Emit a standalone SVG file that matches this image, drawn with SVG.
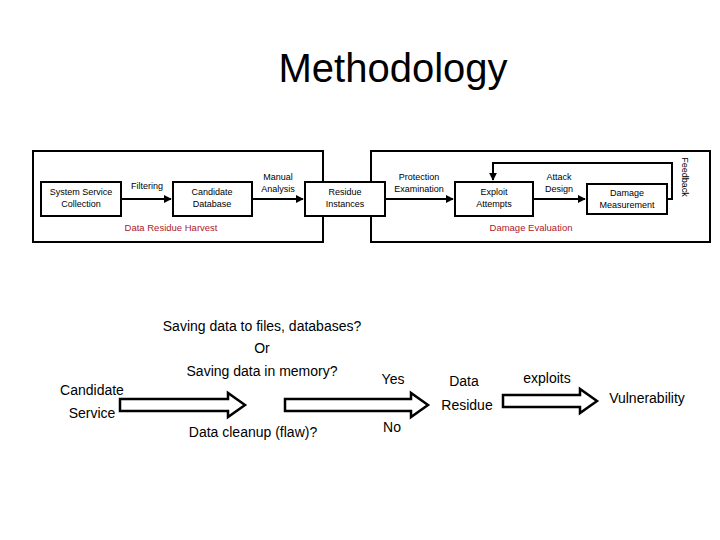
<svg xmlns="http://www.w3.org/2000/svg" width="720" height="540" viewBox="0 0 720 540">
<style>
text{font-family:"Liberation Sans",Arial,sans-serif;text-anchor:middle;fill:#000}
.s{font-size:9px}
.r{font-size:9.5px;fill:#b0202a}
.b{font-size:14px}
.box{fill:#fff;stroke:#000;stroke-width:2}
.ln{stroke:#000;stroke-width:2;fill:none}
.blk{fill:#fff;stroke:#000;stroke-width:2.5}
</style>
<defs><marker id="a" viewBox="0 0 10 10" refX="9" refY="5" markerWidth="4" markerHeight="4" orient="auto"><path d="M0,0L10,5L0,10z" fill="#000"/></marker></defs>
<rect width="720" height="540" fill="#fff"/>
<text x="393" y="82" style="font-size:40px">Methodology</text>
<g id="harvest"><rect class="ln" x="33" y="151" width="290" height="91"/><text class="r" x="171" y="231">Data Residue Harvest</text></g>
<g id="evaluation"><rect class="ln" x="371" y="151" width="339" height="91"/><text class="r" x="531" y="231">Damage Evaluation</text></g>
<g id="connectors">
<path class="ln" d="M122,199H171" marker-end="url(#a)"/>
<path class="ln" d="M252,199H303" marker-end="url(#a)"/>
<path class="ln" d="M385,199H453" marker-end="url(#a)"/>
<path class="ln" d="M533,199H585" marker-end="url(#a)"/>
<path class="ln" d="M667,199H672V163H493V180" marker-end="url(#a)"/>
</g>
<g id="n1"><rect class="box" x="41" y="182" width="80" height="34"/><text class="s" x="81" y="195">System Service</text><text class="s" x="81" y="207">Collection</text></g>
<g id="n2"><rect class="box" x="173" y="182" width="79" height="34"/><text class="s" x="212" y="195">Candidate</text><text class="s" x="212" y="207">Database</text></g>
<g id="n3"><rect class="box" x="305" y="182" width="80" height="34"/><text class="s" x="345" y="195">Residue</text><text class="s" x="345" y="207">Instances</text></g>
<g id="n4"><rect class="box" x="455" y="182" width="78" height="34"/><text class="s" x="494" y="195">Exploit</text><text class="s" x="494" y="207">Attempts</text></g>
<g id="n5"><rect class="box" x="587" y="184" width="80" height="30"/><text class="s" x="627" y="196">Damage</text><text class="s" x="627" y="208">Measurement</text></g>
<g id="labels">
<text class="s" x="147" y="189">Filtering</text>
<text class="s" x="278" y="180">Manual</text><text class="s" x="278" y="192">Analysis</text>
<text class="s" x="419" y="180">Protection</text><text class="s" x="419" y="192">Examination</text>
<text class="s" x="559" y="180">Attack</text><text class="s" x="559" y="192">Design</text>
<text class="s" transform="translate(682,177) rotate(90)">Feedback</text>
</g>
<g id="bottom">
<path class="blk" d="M120,399H228V393L245,405L228,417V411H120Z"/>
<path class="blk" d="M285,399H411V393L428,405L411,417V411H285Z"/>
<path class="blk" d="M503,395H580V389L597,401L580,413V407H503Z"/>
<text class="b" x="92" y="395">Candidate</text><text class="b" x="92" y="418">Service</text>
<text class="b" x="262" y="331">Saving data to files, databases?</text>
<text class="b" x="262" y="353">Or</text>
<text class="b" x="262" y="376">Saving data in memory?</text>
<text class="b" x="253" y="437">Data cleanup (flaw)?</text>
<text class="b" x="393" y="384">Yes</text><text class="b" x="392" y="432">No</text>
<text class="b" x="464" y="386">Data</text><text class="b" x="467" y="410">Residue</text>
<text class="b" x="547" y="383">exploits</text>
<text class="b" x="647" y="403">Vulnerability</text>
</g>
</svg>
